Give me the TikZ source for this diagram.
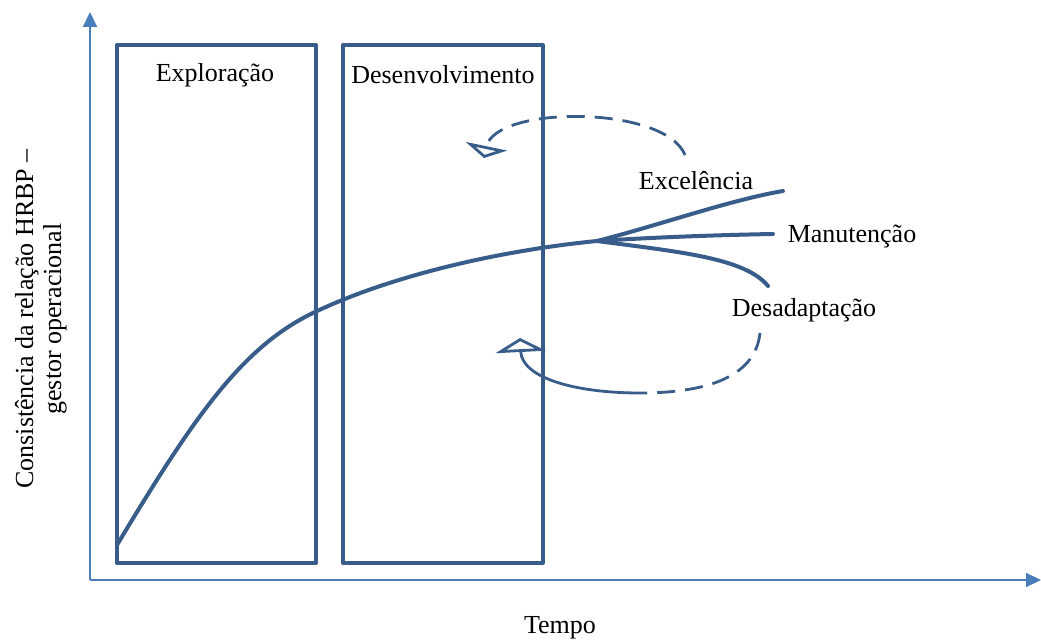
\documentclass[tikz,border=0pt]{standalone}
\usepackage{fontspec}
\setmainfont{Liberation Serif}
\usetikzlibrary{arrows.meta}
\definecolor{hrbpink}{HTML}{385D8A}
\definecolor{hrbpaxis}{HTML}{4A7EBB}
\tikzset{
  phase/.style={draw=hrbpink, line width=2pt, line join=round},
  trend/.style={draw=hrbpink, line width=2pt, line cap=round},
  loopln/.style={draw=hrbpink, line width=1.4pt},
  loopdash/.style={loopln, dash pattern=on 9pt off 5pt},
  axis/.style={draw=hrbpaxis, line width=1pt, -{Triangle[width=7pt,length=7.5pt]}},
  lbl/.style={font=\fontsize{13}{15}\selectfont, inner sep=0pt},
}
\begin{document}
\begin{tikzpicture}[x=0.5pt, y=-0.5pt]
  \useasboundingbox (0,0) rectangle (1041,641);
  % axes
  \draw[axis] (90,580) -- (90,12);
  \draw[axis] (90,580) -- (1041,580);
  % phases
  \draw[phase] (117,45) rectangle (316,563);
  \draw[phase] (343,45) rectangle (543,563);
  \node[lbl] (explor) at (215,75) {Exploração};
  \node[lbl] (desenv) at (443,75) {Desenvolvimento};
  % main trend
  \coordinate (start) at (117,545);
  \coordinate (fork) at (597,241);
  \draw[trend] (start) .. controls (195,415) and (243,346) .. (315,312)
    .. controls (395,274) and (505,250) .. (fork);
  \draw[trend] (fork) .. controls (660,225) and (730,200) .. (783,191);
  \draw[trend] (fork) .. controls (660,237) and (720,235) .. (773,234);
  \draw[trend] (fork) .. controls (680,252) and (745,258) .. (768,286);
  \node[lbl] (excel) at (696,181) {Excelência};
  \node[lbl] (manut) at (852,237) {Manutenção};
  \node[lbl] (desad) at (804,310) {Desadaptação};
  % feedback loops
  \draw[loopdash, -{Triangle[open,width=21pt,length=6pt]}] (685,155) .. controls (665,105) and (495,105) .. (484,158);
  \draw[loopdash] (760,333) .. controls (755,380) and (700,393) .. (640,393);
  \draw[loopln, -{Triangle[open,width=25pt,length=7pt]}] (640,393) .. controls (575,393) and (522,378) .. (520,338);
  % axis labels
  \node[lbl] (tempo) at (560,628) {Tempo};
  \node[lbl, rotate=90, align=center] (consist) at (41,319) {Consistência da relação HRBP –\\[-1pt]gestor operacional};
\end{tikzpicture}
\end{document}
